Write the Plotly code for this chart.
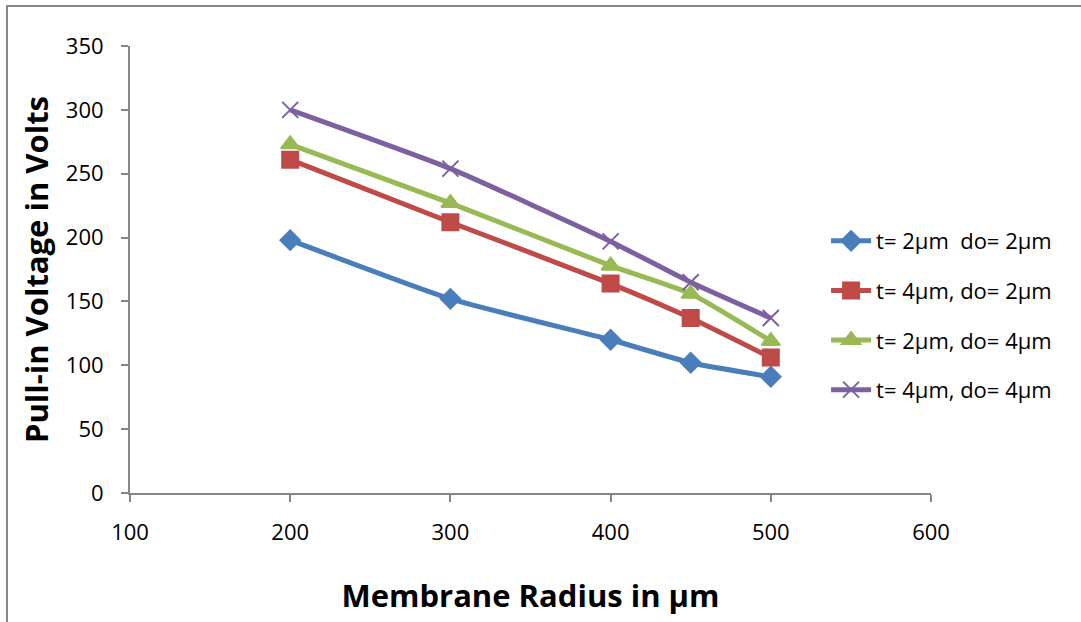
import plotly.graph_objects as go

radius = [200, 300, 400, 450, 500]
names = ["t= 2µm  do= 2µm", "t= 4µm, do= 2µm", "t= 2µm, do= 4µm", "t= 4µm, do= 4µm"]
v_t2_d2 = [198, 152, 120, 102, 91]
v_t4_d2 = [261, 212, 164, 137, 106]
v_t2_d4 = [273, 227, 178, 156, 119]
v_t4_d4 = [300, 254, 197, 165, 137]
x_ticks = [100, 200, 300, 400, 500, 600]
y_ticks = [0, 50, 100, 150, 200, 250, 300, 350]

colors = ["#4A7EBB", "#BE4B48", "#98B954", "#7D60A0"]
symbols = ["diamond", "square", "triangle-up", "x-thin-open"]
msizes = [15, 16, 16, 16]
series = [v_t2_d2, v_t4_d2, v_t2_d4, v_t4_d4]

font = "Open Sans, Liberation Sans, sans-serif"

fig = go.Figure()
for i, (nm, ys) in enumerate(zip(names, series)):
    fig.add_trace(go.Scatter(
        x=radius, y=ys, name=nm, mode="lines+markers",
        line=dict(color=colors[i], width=5, shape="spline", smoothing=0.5),
        marker=dict(symbol=symbols[i], size=msizes[i], color=colors[i],
                    line=dict(color=colors[i], width=2)),
        legendgroup=f"g{i}",
    ))

axis_common = dict(
    showgrid=False, zeroline=False, showline=True, linecolor="#868686", linewidth=2,
    ticks="outside", ticklen=7, tickwidth=2, tickcolor="#868686",
    tickfont=dict(family=font, size=22, color="black"),
)
fig.update_xaxes(range=[100, 600], tickvals=x_ticks, ticktext=[str(v) for v in x_ticks],
                 ticklabelstandoff=12,
                 title=dict(text="<b>Membrane Radius in µm</b>", font=dict(family=font, size=31, color="black"), standoff=40),
                 **axis_common)
fig.update_yaxes(range=[0, 350], tickvals=y_ticks, ticktext=[str(v) for v in y_ticks],
                 ticklabelstandoff=13,
                 title=dict(text="<b>Pull-in Voltage in Volts</b>", font=dict(family=font, size=31, color="black"), standoff=8),
                 **axis_common)

fig.add_shape(type="rect", xref="paper", yref="paper",
              x0=-0.1536, x1=1.2, y0=-0.5, y1=1.0895,
              line=dict(color="#868686", width=2), fillcolor="rgba(0,0,0,0)", layer="below")

fig.update_layout(
    width=1081, height=622,
    margin=dict(l=130, r=150, t=46, b=129, autoexpand=False),
    paper_bgcolor="white", plot_bgcolor="white",
    showlegend=True,
    legend=dict(x=0.869, xanchor="left", y=0.397, yanchor="middle",
                font=dict(family=font, size=22, color="black"),
                tracegroupgap=18, itemwidth=40, bgcolor="rgba(0,0,0,0)"),
)

fig.write_html("out.html")
